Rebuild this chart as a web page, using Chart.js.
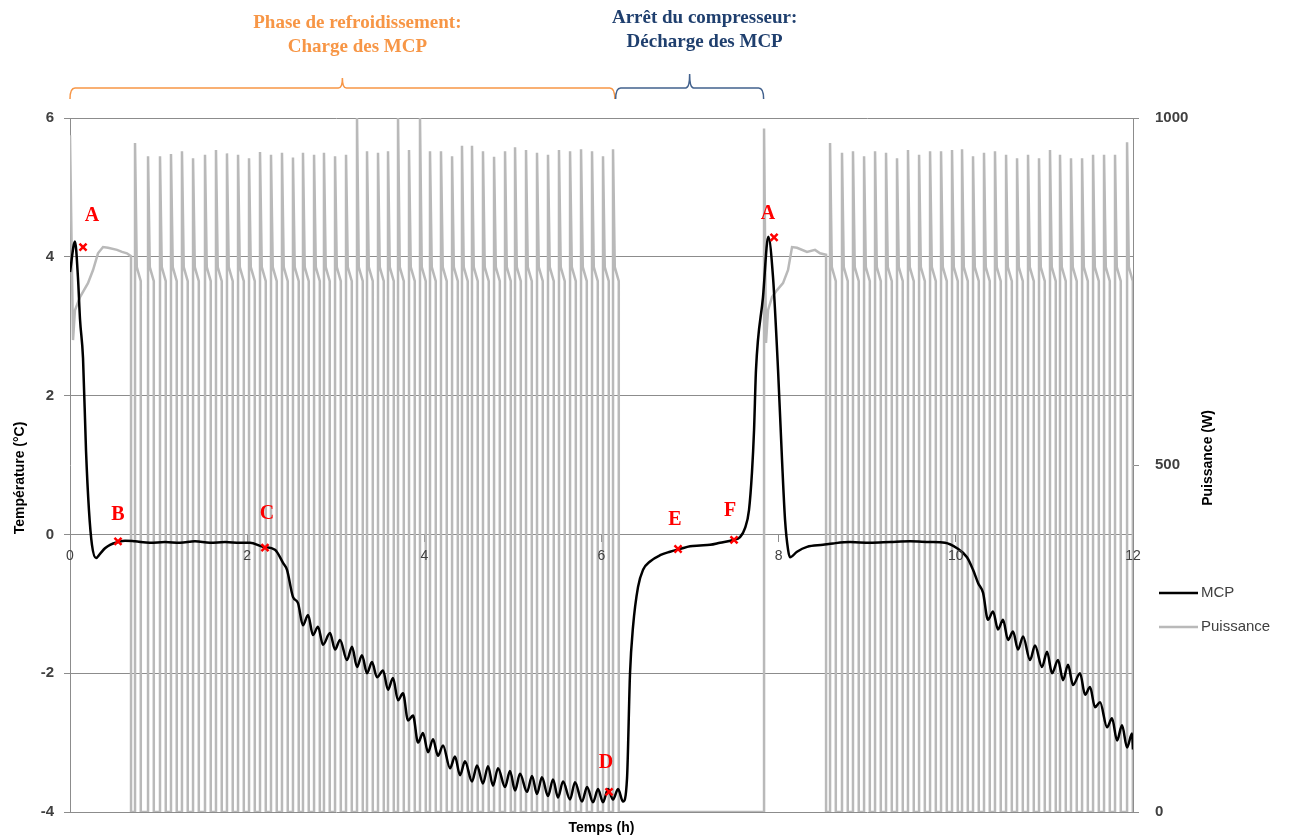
<!DOCTYPE html>
<html lang="fr">
<head>
<meta charset="utf-8">
<title>MCP et puissance du compresseur</title>
<script src="https://cdn.jsdelivr.net/npm/chart.js@4.4.1/dist/chart.umd.min.js"></script>
<style>
  html, body { margin: 0; padding: 0; background: #fff; }
  #cadre { position: relative; width: 1293px; height: 838px; }
</style>
</head>
<body>
<div id="cadre"><canvas id="graphique"></canvas></div>
<script>
// Température des MCP : temps (h) et valeur (°C)
const tempsMcp = [
  0.000, 0.056, 0.090, 0.113, 0.147, 0.181, 0.214, 0.248, 0.294, 0.339, 0.395, 0.452, 0.542, 0.621,
  0.734, 0.903, 1.072, 1.242, 1.411, 1.580, 1.750, 1.919, 2.032, 2.179, 2.314, 2.405, 2.450, 2.517,
  2.574, 2.630, 2.687, 2.743, 2.800, 2.856, 2.935, 2.992, 3.048, 3.127, 3.184, 3.240, 3.296, 3.353,
  3.409, 3.466, 3.534, 3.590, 3.646, 3.703, 3.759, 3.816, 3.872, 3.929, 3.985, 4.042, 4.098, 4.154,
  4.211, 4.290, 4.346, 4.403, 4.459, 4.538, 4.595, 4.662, 4.719, 4.775, 4.832, 4.911, 4.967, 5.024,
  5.080, 5.159, 5.216, 5.272, 5.328, 5.396, 5.453, 5.509, 5.566, 5.645, 5.701, 5.780, 5.837, 5.904,
  5.961, 6.017, 6.074, 6.130, 6.187, 6.243, 6.288, 6.322, 6.356, 6.412, 6.469, 6.548, 6.661, 6.774,
  6.887, 7.000, 7.112, 7.225, 7.338, 7.485, 7.564, 7.620, 7.665, 7.699, 7.722, 7.744, 7.823, 7.883,
  7.936, 7.993, 8.038, 8.072, 8.106, 8.128, 8.207, 8.320, 8.501, 8.614, 8.806, 9.031, 9.257, 9.483,
  9.709, 9.878, 10.014, 10.126, 10.194, 10.251, 10.307, 10.363, 10.420, 10.476, 10.533, 10.589,
  10.646, 10.702, 10.759, 10.838, 10.894, 10.973, 11.030, 11.086, 11.154, 11.210, 11.267, 11.323,
  11.402, 11.459, 11.515, 11.571, 11.628, 11.707, 11.763, 11.820, 11.876, 11.933, 11.989, 12.000,
];
const temperatureMcp = [
  3.78, 4.22, 3.70, 3.10, 2.54, 1.20, 0.35, -0.15, -0.34, -0.28, -0.20, -0.15, -0.11, -0.09,
  -0.10, -0.12, -0.11, -0.12, -0.10, -0.12, -0.11, -0.12, -0.12, -0.18, -0.22, -0.41, -0.51, -0.90,
  -0.99, -1.31, -1.16, -1.45, -1.33, -1.59, -1.42, -1.66, -1.52, -1.81, -1.62, -1.91, -1.74, -2.00,
  -1.84, -2.06, -1.96, -2.24, -2.07, -2.39, -2.29, -2.68, -2.61, -3.00, -2.86, -3.14, -2.95, -3.19,
  -3.04, -3.37, -3.20, -3.47, -3.27, -3.56, -3.33, -3.59, -3.34, -3.62, -3.37, -3.64, -3.41, -3.69,
  -3.45, -3.71, -3.48, -3.74, -3.50, -3.77, -3.53, -3.79, -3.56, -3.82, -3.57, -3.85, -3.64, -3.86,
  -3.67, -3.86, -3.67, -3.82, -3.67, -3.85, -3.52, -2.00, -1.33, -0.76, -0.51, -0.39, -0.30, -0.25,
  -0.21, -0.17, -0.16, -0.15, -0.12, -0.08, -0.04, 0.09, 0.35, 0.90, 1.50, 2.37, 3.42, 4.29,
  3.71, 2.37, 1.07, 0.21, -0.22, -0.33, -0.25, -0.18, -0.15, -0.13, -0.11, -0.12, -0.11, -0.10,
  -0.11, -0.12, -0.20, -0.33, -0.51, -0.70, -0.84, -1.23, -1.11, -1.37, -1.23, -1.52,
  -1.40, -1.66, -1.47, -1.81, -1.60, -1.91, -1.69, -2.00, -1.81, -2.10, -1.88, -2.17,
  -2.00, -2.31, -2.20, -2.49, -2.42, -2.78, -2.65, -2.97, -2.75, -3.07, -2.87, -3.10,
];

// Puissance : démarrages du compresseur (h, W)
const demarrageTemps1 = [0.000, 0.034, 0.056, 0.113, 0.203, 0.260, 0.316, 0.373, 0.429, 0.531, 0.587, 0.643, 0.689, 0.689];
const demarragePuissance1 = [975, 680, 723, 742, 762, 781, 805, 814, 813, 810, 807, 805, 801, 0];
const demarrageTemps2 = [7.835, 7.835, 7.857, 7.880, 7.925, 7.982, 8.049, 8.106, 8.151, 8.207, 8.320, 8.410, 8.467, 8.535, 8.535];
const demarragePuissance2 = [0, 985, 676, 723, 742, 752, 762, 781, 814, 813, 807, 810, 805, 803, 0];

// Puissance : début de chaque cycle de marche (h) et pic atteint (W)
const debutsCycles1 = [
  0.734, 0.881, 1.016, 1.140, 1.264, 1.389, 1.524, 1.648, 1.772, 1.897, 2.021, 2.145, 2.269, 2.393,
  2.517, 2.630, 2.755, 2.867, 2.992, 3.116, 3.240, 3.353, 3.477, 3.590, 3.703, 3.827, 3.951, 4.064,
  4.188, 4.313, 4.425, 4.538, 4.662, 4.787, 4.911, 5.024, 5.148, 5.272, 5.396, 5.520, 5.645, 5.769,
  5.893, 6.017, 6.130,
];
const picsCycles1 = [
  964, 945, 945, 948, 952, 942, 947, 954, 949, 947, 942, 951, 947, 950,
  943, 950, 947, 950, 945, 947, 1000, 952, 950, 952, 1000, 954, 1000, 952,
  952, 945, 960, 960, 952, 944, 952, 958, 954, 950, 947, 954, 952, 955,
  952, 945, 955,
];
const debutsCycles2 = [
  8.580, 8.715, 8.839, 8.964, 9.088, 9.212, 9.336, 9.460, 9.585, 9.709, 9.833, 9.957, 10.070, 10.194,
  10.318, 10.442, 10.567, 10.691, 10.815, 10.939, 11.063, 11.176, 11.300, 11.425, 11.549, 11.673,
  11.797, 11.933,
];
const picsCycles2 = [
  964, 950, 952, 945, 952, 950, 942, 954, 947, 952, 952, 954, 955, 945,
  950, 952, 947, 942, 947, 942, 954, 947, 942, 942, 947, 947, 947, 965,
];
// palier atteint pendant la marche (W) et durée de marche (h)
const PALIER_HAUT = 785;
const PALIER_BAS = 765;
const DUREE_MARCHE = 0.065;

// Points repérés A à F
const reperesNoms = ['A', 'B', 'C', 'D', 'E', 'F', 'A'];
const reperesTemps = [0.147, 0.542, 2.201, 6.085, 6.864, 7.496, 7.948];
const reperesTemperature = [4.14, -0.10, -0.19, -3.71, -0.21, -0.08, 4.28];

// Phases annotées au-dessus du graphique
const phasesDebut = [0, 6.16];
const phasesFin = [6.15, 7.83];
const phasesTitres = [
  ['Phase de refroidissement:', 'Charge des MCP'],
  ['Arrêt du compresseur:', 'Décharge des MCP'],
];

const graduationsTemps = [0, 2, 4, 6, 8, 10, 12];

const COULEURS = {
  MCP: '#000',
  PUISSANCE: '#b9b9b9',
  REPERE: '#ff0000',
  GRILLE: '#8c8c8c',
  TEXTE: '#404040',
  ORANGE: '#f79646',
  BLEU_TEXTE: '#1f3f6e',
  BLEU_ACCOLADE: '#42618d',
};

const zip = (xs, ys) => xs.map((x, i) => ({ x, y: ys[i] }));

const construitPuissance = () => {
  const points = zip(demarrageTemps1, demarragePuissance1);
  const ajouteCycles = (debuts, pics) => {
    debuts.forEach((t, i) => {
      points.push(
        { x: t, y: 0 },
        { x: t, y: pics[i] },
        { x: t + 0.02, y: PALIER_HAUT },
        { x: t + DUREE_MARCHE, y: PALIER_BAS },
        { x: t + DUREE_MARCHE, y: 0 },
      );
    });
  };
  ajouteCycles(debutsCycles1, picsCycles1);
  points.push(...zip(demarrageTemps2, demarragePuissance2));
  ajouteCycles(debutsCycles2, picsCycles2);
  return points;
};

const accolade = (ctx, x1, x2, yLigne, hauteurBout, hauteurPointe) => {
  const cx = (x1 + x2) / 2;
  ctx.beginPath();
  ctx.moveTo(x1, yLigne + hauteurBout);
  ctx.quadraticCurveTo(x1, yLigne, x1 + 5, yLigne);
  ctx.lineTo(cx - 4, yLigne);
  ctx.quadraticCurveTo(cx, yLigne, cx, yLigne - hauteurPointe);
  ctx.quadraticCurveTo(cx, yLigne, cx + 4, yLigne);
  ctx.lineTo(x2 - 5, yLigne);
  ctx.quadraticCurveTo(x2, yLigne, x2, yLigne + hauteurBout);
  ctx.stroke();
};

const habillage = {
  id: 'habillage',
  afterDatasetsDraw(chart, args, opts) {
    const { ctx, scales: { x, y } } = chart;
    ctx.save();
    ctx.fillStyle = COULEURS.REPERE;
    ctx.font = 'bold 20px "Liberation Serif"';
    ctx.textAlign = 'center';
    ctx.textBaseline = 'middle';
    reperesNoms.forEach((nom, i) => {
      const [dx, dy] = opts.decalages[i];
      ctx.fillText(nom, x.getPixelForValue(reperesTemps[i]) + dx, y.getPixelForValue(reperesTemperature[i]) + dy);
    });
    ctx.restore();
  },
  afterDraw(chart) {
    const { ctx, chartArea, scales: { x } } = chart;
    ctx.save();

    // accolades et titres des phases
    const couleursTexte = [COULEURS.ORANGE, COULEURS.BLEU_TEXTE];
    const couleursTrait = [COULEURS.ORANGE, COULEURS.BLEU_ACCOLADE];
    const baselines = [[28, 52], [23, 47]];
    const pointes = [10, 14];
    phasesTitres.forEach((lignes, i) => {
      const x1 = x.getPixelForValue(phasesDebut[i]);
      const x2 = x.getPixelForValue(phasesFin[i]);
      ctx.strokeStyle = couleursTrait[i];
      ctx.lineWidth = 1.5;
      accolade(ctx, x1, x2, 88, 11, pointes[i]);
      ctx.fillStyle = couleursTexte[i];
      ctx.font = 'bold 19px "Liberation Serif"';
      ctx.textAlign = 'center';
      ctx.textBaseline = 'alphabetic';
      lignes.forEach((ligne, j) => ctx.fillText(ligne, (x1 + x2) / 2 + 15, baselines[i][j]));
    });

    // titres des axes
    ctx.fillStyle = '#000';
    ctx.font = 'bold 14px "Liberation Sans"';
    ctx.textAlign = 'center';
    ctx.textBaseline = 'middle';
    ctx.fillText('Temps (h)', (chartArea.left + chartArea.right) / 2, 828);
    ctx.save();
    ctx.translate(20, 478);
    ctx.rotate(-Math.PI / 2);
    ctx.fillText('Température (°C)', 0, 0);
    ctx.restore();
    ctx.save();
    ctx.translate(1208, 458);
    ctx.rotate(-Math.PI / 2);
    ctx.fillText('Puissance (W)', 0, 0);
    ctx.restore();

    // légende
    const entrees = chart.data.datasets.filter((d) => d.dansLegende);
    ctx.font = '15px "Liberation Sans"';
    ctx.textAlign = 'left';
    entrees.forEach((d, i) => {
      const yl = 593 + i * 34;
      ctx.strokeStyle = d.borderColor;
      ctx.lineWidth = d.borderWidth;
      ctx.beginPath();
      ctx.moveTo(1159, yl);
      ctx.lineTo(1198, yl);
      ctx.stroke();
      ctx.fillStyle = COULEURS.TEXTE;
      ctx.fillText(d.label, 1201, yl);
    });
    ctx.restore();
  },
};

const policeGraduations = { family: '"Liberation Sans"', size: 15 };

new Chart(document.getElementById('graphique'), {
  type: 'line',
  plugins: [habillage],
  data: {
    datasets: [
      {
        type: 'scatter',
        label: 'Repères',
        data: zip(reperesTemps, reperesTemperature),
        yAxisID: 'y',
        pointStyle: 'crossRot',
        pointRadius: 5,
        pointBorderWidth: 2.5,
        pointBorderColor: COULEURS.REPERE,
        order: -1,
      },
      {
        label: 'MCP',
        data: zip(tempsMcp, temperatureMcp),
        yAxisID: 'y',
        borderColor: COULEURS.MCP,
        borderWidth: 2.5,
        pointRadius: 0,
        cubicInterpolationMode: 'monotone',
        dansLegende: true,
        order: 0,
      },
      {
        label: 'Puissance',
        data: construitPuissance(),
        yAxisID: 'yP',
        borderColor: COULEURS.PUISSANCE,
        borderWidth: 2.5,
        pointRadius: 0,
        tension: 0,
        dansLegende: true,
        order: 1,
      },
    ],
  },
  options: {
    responsive: true,
    maintainAspectRatio: false,
    animation: false,
    events: [],
    layout: { padding: { top: 118, bottom: 26, left: 0, right: 0 } },
    plugins: {
      legend: { display: false },
      tooltip: { enabled: false },
      habillage: {
        decalages: [[9, -31], [0, -27], [2, -34], [-3, -29], [-3, -29], [-4, -29], [-6, -24]],
      },
    },
    scales: {
      x: {
        type: 'linear',
        min: 0,
        max: 12,
        position: { y: 0 },
        afterBuildTicks: (echelle) => { echelle.ticks = graduationsTemps.map((value) => ({ value })); },
        ticks: { z: 1, color: COULEURS.TEXTE, font: { ...policeGraduations, size: 14 }, padding: 6, maxRotation: 0 },
        grid: { drawOnChartArea: false, color: COULEURS.GRILLE, tickLength: 7 },
        border: { color: COULEURS.GRILLE },
      },
      y: {
        position: 'left',
        min: -4,
        max: 6,
        ticks: { stepSize: 2, color: COULEURS.TEXTE, font: { ...policeGraduations, weight: 'bold' }, padding: 10 },
        grid: { color: COULEURS.GRILLE, tickLength: 6 },
        border: { color: COULEURS.GRILLE },
        afterFit: (echelle) => { echelle.width = 70; },
      },
      yP: {
        position: 'right',
        min: 0,
        max: 1000,
        ticks: {
          stepSize: 500,
          color: COULEURS.TEXTE,
          font: { ...policeGraduations, weight: 'bold' },
          padding: 16,
          callback: (valeur) => String(valeur),
        },
        grid: { drawOnChartArea: false, color: COULEURS.GRILLE, tickLength: 6 },
        border: { color: COULEURS.GRILLE },
        afterFit: (echelle) => { echelle.width = 160; },
      },
    },
  },
});
</script>
</body>
</html>
